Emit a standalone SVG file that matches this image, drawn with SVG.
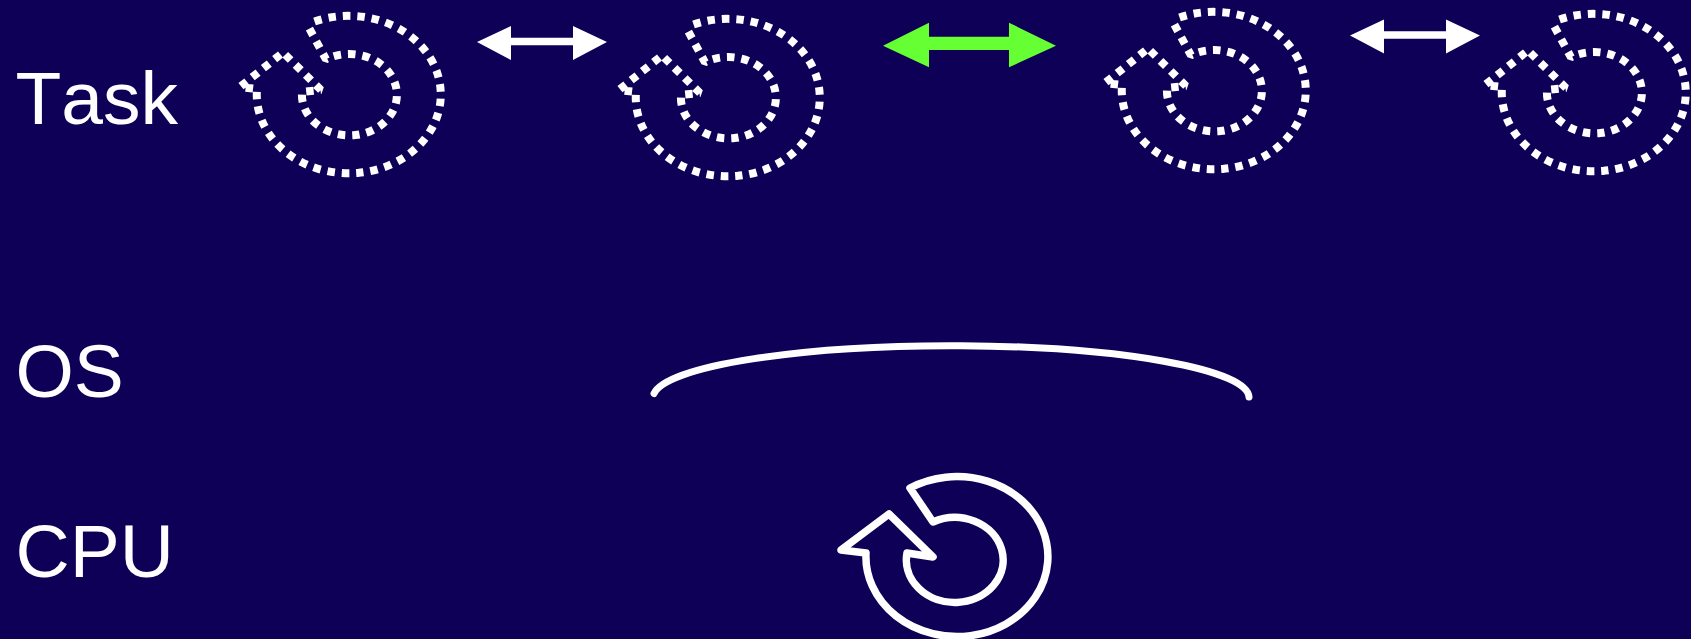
<svg xmlns="http://www.w3.org/2000/svg" width="1691" height="639" viewBox="0 0 1691 639">
<style>
text{font-family:"Liberation Sans",Arial,sans-serif;font-size:75px;fill:#fff;font-kerning:none}
.sp{fill:none;stroke:#fff;stroke-width:8;stroke-dasharray:7.5 6.9;stroke-dashoffset:-3.2;stroke-linejoin:bevel}
</style>
<defs>
<g id="spiral">
<path class="sp" d="M-67,-42.500 L-29,-5 L-48,-3 A47.500 40.700 0 1 0 -24,-35.700 L-41.500,-68"/>
<path class="sp" d="M-67,-42.500 L-110,-8 L-93,-6 A92 78.700 0 1 0 -40,-71.800"/>
</g>
<polygon id="dbl" fill="#fff" points="477,42 511,26 511,37.700 573,37.700 573,26 607,42 573,60 573,45.300 511,45.300 511,60"/>
</defs>
<rect width="1691" height="639" fill="#0f0057"/>
<g id="label-task"><text x="15.500" y="124">Task</text></g>
<g id="label-os"><text x="15.500" y="397">OS</text></g>
<g id="label-cpu"><text x="15.500" y="577">CPU</text></g>
<g id="task-1"><use href="#spiral" transform="translate(350,95)"/></g>
<g id="task-2"><use href="#spiral" transform="translate(729,98)"/></g>
<g id="task-3"><use href="#spiral" transform="translate(1215,91)"/></g>
<g id="task-4"><use href="#spiral" transform="translate(1595,93)"/></g>
<g id="connectors">
<use href="#dbl"/>
<polygon fill="#66ff33" points="883,45.700 929,22.700 929,36.700 1009,36.700 1009,22.700 1056,45.700 1009,67.300 1009,50 929,50 929,67.300"/>
<use href="#dbl" transform="translate(873,-6.500)"/>
</g>
<g id="os"><path d="M654,393.500 A298 52 0 0 1 1249,397" fill="none" stroke="#fff" stroke-width="7" stroke-linecap="round"/></g>
<g id="cpu"><path d="M910,488 A91 80 0 1 1 866,553 L841,550 L889,514 L933,557 L907,553 A48.400 42.500 0 1 0 933,522 Z" fill="none" stroke="#fff" stroke-width="7.500" stroke-linejoin="round"/></g>
</svg>
